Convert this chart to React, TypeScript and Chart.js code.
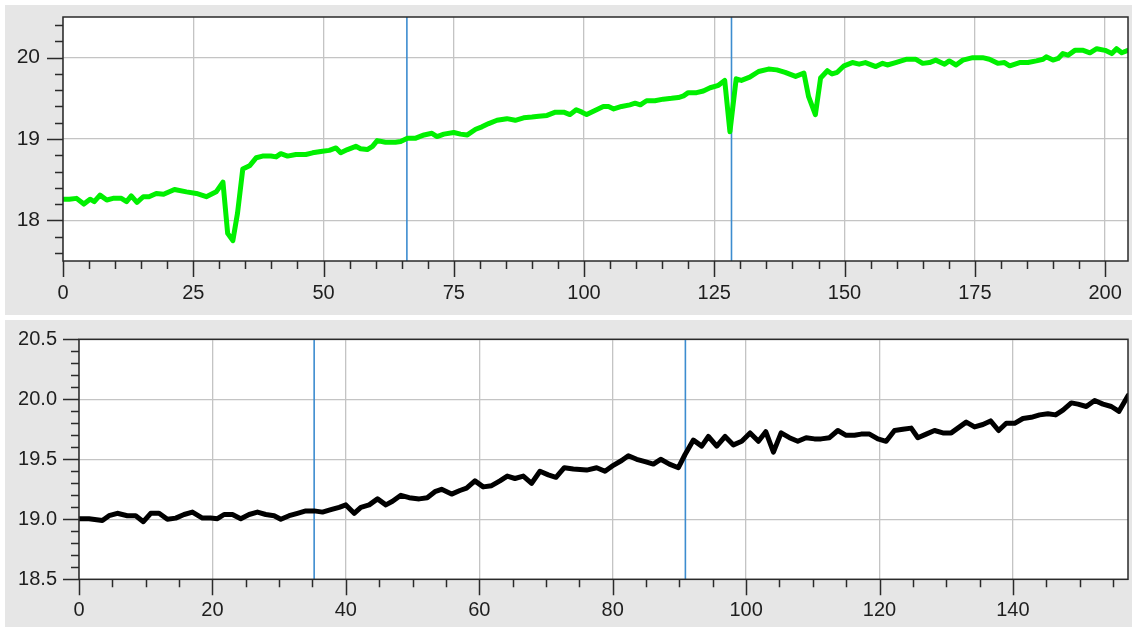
import React, { useEffect, useRef } from "react";
import { Chart, registerables } from "chart.js";

Chart.register(...registerables);

// ---------- Top panel data ----------
const topX = [
  0, 1.2, 2.6, 4, 5.2, 6, 7.1, 8.4, 9.6, 11.2, 12.2, 13.1, 14.2, 15.4, 16.5, 17.9, 19.3, 21.4, 23.7, 25.6,
  27.5, 29.4, 30.7, 31.6, 32.6, 33.5, 34.5, 35.8, 37.1, 38.3, 39.9, 40.9, 41.8, 43.1, 44.7, 46.6, 47.9, 49.8,
  51.1, 52.4, 53.3, 54.6, 56.2, 57.1, 58.4, 59.4, 60.3, 61.9, 63.8, 64.8, 66.1, 67.7, 69.3, 70.8, 71.8, 73.1,
  75, 76.3, 77.6, 79.2, 80.4, 81.7, 83.3, 85.2, 86.8, 88.4, 90.0, 91.3, 92.9, 94.5, 96.1, 97.3, 98.5, 99.6,
  100.5, 102.1, 103.7, 104.7, 105.7, 107.2, 108.8, 109.8, 110.8, 112.0, 113.6, 115.2, 116.8, 118.1, 119.1,
  120.0, 121.6, 122.9, 124.2, 125.8, 127.0, 128.0, 129.2, 130.2, 131.8, 133.5, 135.4, 137.0, 138.6, 140.6,
  142.2, 143.1, 144.4, 145.4, 146.7, 147.6, 148.6, 149.9, 151.5, 152.8, 154.0, 156.0, 157.3, 158.2, 159.8,
  161.8, 163.7, 165.0, 166.3, 167.5, 169.2, 170.1, 171.4, 172.7, 174.6, 176.5, 177.8, 179.4, 180.7, 181.7,
  183.6, 185.2, 186.8, 188.1, 188.7, 190.0, 191.0, 191.9, 192.9, 194.2, 195.8, 197.1, 198.4, 200.0, 201.3,
  202.2, 203.2, 204.4,
];
const topY = [
  18.26, 18.26, 18.27, 18.2, 18.26, 18.23, 18.31, 18.25, 18.27, 18.27, 18.23, 18.3, 18.22, 18.29, 18.29, 18.33,
  18.32, 18.38, 18.35, 18.33, 18.29, 18.35, 18.47, 17.84, 17.75, 18.09, 18.63, 18.67, 18.77, 18.79, 18.79,
  18.78, 18.82, 18.79, 18.81, 18.81, 18.83, 18.85, 18.86, 18.89, 18.83, 18.87, 18.91, 18.88, 18.87, 18.91,
  18.98, 18.96, 18.96, 18.97, 19.01, 19.01, 19.05, 19.07, 19.03, 19.06, 19.08, 19.06, 19.05, 19.12, 19.15,
  19.19, 19.23, 19.25, 19.23, 19.26, 19.27, 19.28, 19.29, 19.33, 19.33, 19.3, 19.36, 19.33, 19.3, 19.35,
  19.4, 19.4, 19.37, 19.4, 19.42, 19.44, 19.42, 19.47, 19.47, 19.49, 19.5, 19.51, 19.53, 19.57, 19.57,
  19.59, 19.63, 19.66, 19.72, 19.09, 19.74, 19.72, 19.76, 19.83, 19.86, 19.85, 19.82, 19.77, 19.81, 19.52,
  19.3, 19.75, 19.84, 19.8, 19.82, 19.9, 19.94, 19.92, 19.94, 19.89, 19.93, 19.91, 19.94, 19.98, 19.98,
  19.93, 19.94, 19.97, 19.92, 19.96, 19.91, 19.97, 20.0, 20.0, 19.98, 19.93, 19.94, 19.9, 19.94, 19.94,
  19.96, 19.98, 20.01, 19.97, 19.99, 20.05, 20.03, 20.09, 20.09, 20.06, 20.11, 20.09, 20.05, 20.11, 20.06,
  20.09,
];
const topMarkers = [66, 128.3];
const topXMajor = [0, 25, 50, 75, 100, 125, 150, 175, 200];
const topXLabels = ["0", "25", "50", "75", "100", "125", "150", "175", "200"];
const topYMajor = [18, 19, 20];
const topYLabels = ["18", "19", "20"];

// ---------- Bottom panel data ----------
const bottomX = [
  0, 1.5, 3.5, 4.5, 5.75, 7.25, 8.5, 9.65, 10.75, 12, 13.25, 14.5, 15.75, 17, 18.5, 19.75, 20.75, 21.75, 23,
  24.25, 25.5, 26.75, 28, 29.25, 30.25, 31.5, 32.75, 34, 35.25, 36.5, 37.75, 39, 40, 41.25, 42.25, 43.5, 44.75,
  46, 47, 48.25, 49.5, 51, 52.2, 53.35, 54.35, 55.85, 57.1, 58.1, 59.35, 60.6, 61.85, 63.1, 64.2, 65.35, 66.6,
  67.85, 69.1, 70.35, 71.5, 72.75, 74.1, 76.1, 77.6, 78.85, 80.1, 81.35, 82.35, 83.6, 84.85, 86.1, 87.2, 88.5,
  89.85, 90.85, 92.1, 93.35, 94.35, 95.6, 96.85, 98.1, 99.35, 100.6, 101.85, 102.95, 104.1, 105.25, 106.5,
  107.75, 109, 110.25, 111.25, 112.5, 113.75, 115, 116.25, 117.25, 118.5, 119.75, 121, 122.25, 123.5, 124.75,
  125.75, 127, 128.25, 129.5, 130.75, 132, 133, 134.25, 135.5, 136.65, 137.85, 139, 140.25, 141.5, 142.75,
  144, 145.25, 146.4, 147.5, 148.75, 149.75, 151, 152.25, 153.5, 154.75, 155.9, 157.25,
];
const bottomY = [
  19.005, 19.005, 18.99, 19.03, 19.05, 19.03, 19.03, 18.98, 19.05, 19.05, 19.0, 19.01, 19.04, 19.06, 19.01,
  19.01, 19.005, 19.04, 19.04, 19.005, 19.04, 19.06, 19.04, 19.03, 19.0, 19.03, 19.05, 19.07, 19.07, 19.06,
  19.08, 19.1, 19.12, 19.05, 19.1, 19.12, 19.17, 19.12, 19.15, 19.2, 19.18, 19.17, 19.18, 19.23, 19.25, 19.21,
  19.24, 19.26, 19.32, 19.27, 19.28, 19.32, 19.36, 19.34, 19.36, 19.3, 19.4, 19.37, 19.35, 19.43, 19.42,
  19.41, 19.43, 19.4, 19.45, 19.49, 19.53, 19.5, 19.48, 19.46, 19.5, 19.46, 19.43, 19.54, 19.66, 19.61,
  19.69, 19.61, 19.69, 19.62, 19.65, 19.72, 19.65, 19.73, 19.56, 19.72, 19.68, 19.65, 19.68, 19.67, 19.67,
  19.68, 19.74, 19.7, 19.7, 19.71, 19.71, 19.67, 19.65, 19.74, 19.75, 19.76, 19.68, 19.71, 19.74, 19.72,
  19.72, 19.77, 19.81, 19.77, 19.79, 19.82, 19.74, 19.8, 19.8, 19.84, 19.85, 19.87, 19.88, 19.87, 19.91,
  19.97, 19.96, 19.94, 19.99, 19.96, 19.94, 19.9, 20.03,
];
const bottomMarkers = [35.25, 90.9];
const bottomXMajor = [0, 20, 40, 60, 80, 100, 120, 140];
const bottomXLabels = ["0", "20", "40", "60", "80", "100", "120", "140"];
const bottomYMajor = [18.5, 19.0, 19.5, 20.0, 20.5];
const bottomYLabels = ["18.5", "19.0", "19.5", "20.0", "20.5"];

const FONT = '"Liberation Sans", Arial, Helvetica, sans-serif';
const GRID = "#c4c4c4";
const FRAME = "#2a2a2a";
const MARKER = "#3d8ccf";
const PANEL_BG = "#e6e6e6";

type PanelCfg = {
  width: number;
  height: number;
  xs: number[];
  ys: number[];
  color: string;
  markers: number[];
  xMin: number;
  xMax: number;
  xStep: number;
  xTickEnd: number;
  xMajor: number[];
  xLabels: string[];
  yMin: number;
  yMax: number;
  yStep: number;
  yTickStart: number;
  yTickEnd: number;
  yMajor: number[];
  yLabels: string[];
  yFont: number;
  padTop: number;
  padRight: number;
  yAxisWidth: number;
  xAxisHeight: number;
  xLabelPad: number;
  yLabelPad: number;
};

function steps(start: number, end: number, step: number): number[] {
  const out: number[] = [];
  const n = Math.round((end - start) / step);
  for (let i = 0; i <= n; i++) out.push(Math.round((start + i * step) * 1e6) / 1e6);
  return out;
}

function majorIndex(list: number[], v: number): number {
  for (let i = 0; i < list.length; i++) if (Math.abs(list[i] - v) < 1e-6) return i;
  return -1;
}

function buildChart(canvas: HTMLCanvasElement, c: PanelCfg): Chart {
  const xTickVals = steps(c.xMin, c.xTickEnd, c.xStep);
  const yTickVals = steps(c.yTickStart, c.yTickEnd, c.yStep);
  const MAJOR_LEN = 16;
  const MINOR_LEN = 8;

  const datasets: any[] = [
    {
      data: c.xs.map((x, i) => ({ x, y: c.ys[i] })),
      borderColor: c.color,
      borderWidth: 5,
      pointRadius: 0,
      tension: 0,
      borderJoinStyle: "round",
      borderCapStyle: "round",
      fill: false,
      order: 0,
    },
    ...c.markers.map((m) => ({
      data: [
        { x: m, y: c.yMin },
        { x: m, y: c.yMax },
      ],
      borderColor: MARKER,
      borderWidth: 1.6,
      pointRadius: 0,
      borderCapStyle: "butt",
      fill: false,
      order: 1,
    })),
  ];

  const framePlugin = {
    id: "frameTicks",
    beforeDraw(chart: any) {
      const { ctx, chartArea: a } = chart;
      ctx.save();
      ctx.fillStyle = "#ffffff";
      ctx.fillRect(a.left, a.top, a.right - a.left, a.bottom - a.top);
      ctx.restore();
    },
    afterDraw(chart: any) {
      const { ctx, chartArea: a, scales } = chart;
      const xs = scales.x;
      const ys = scales.y;
      ctx.save();
      ctx.strokeStyle = FRAME;
      ctx.lineWidth = 1.5;
      ctx.beginPath();
      xTickVals.forEach((v) => {
        const px = Math.round(xs.getPixelForValue(v)) + 0.5;
        const len = majorIndex(c.xMajor, v) >= 0 ? MAJOR_LEN : MINOR_LEN;
        ctx.moveTo(px, a.bottom);
        ctx.lineTo(px, a.bottom + len);
      });
      yTickVals.forEach((v) => {
        const py = Math.round(ys.getPixelForValue(v)) + 0.5;
        const len = majorIndex(c.yMajor, v) >= 0 ? MAJOR_LEN : MINOR_LEN;
        ctx.moveTo(a.left, py);
        ctx.lineTo(a.left - len, py);
      });
      ctx.stroke();
      ctx.strokeRect(a.left, a.top, a.right - a.left, a.bottom - a.top);
      ctx.restore();
    },
  };

  return new Chart(canvas, {
    type: "line",
    data: { datasets },
    plugins: [framePlugin],
    options: {
      responsive: false,
      animation: false,
      events: [],
      layout: { padding: { left: 0, top: c.padTop, right: c.padRight, bottom: 0 } },
      plugins: { legend: { display: false }, tooltip: { enabled: false } },
      scales: {
        x: {
          type: "linear",
          position: "bottom",
          min: c.xMin,
          max: c.xMax,
          bounds: "data",
          afterBuildTicks: (scale: any) => {
            scale.ticks = xTickVals.map((v) => ({ value: v }));
          },
          afterFit: (scale: any) => {
            scale.height = c.xAxisHeight;
            scale.paddingLeft = 0;
            scale.paddingRight = 0;
            scale.paddingTop = 0;
            scale.paddingBottom = 0;
          },
          ticks: {
            autoSkip: false,
            maxRotation: 0,
            minRotation: 0,
            padding: c.xLabelPad,
            color: "#1e1e1e",
            font: { family: FONT, size: 20 },
            callback: (v: any) => {
              const i = majorIndex(c.xMajor, Number(v));
              return i >= 0 ? c.xLabels[i] : "";
            },
          },
          grid: {
            color: (ctx: any) =>
              ctx.tick && majorIndex(c.xMajor, ctx.tick.value) >= 0 ? GRID : "rgba(0,0,0,0)",
            lineWidth: 1.3,
            drawTicks: true,
            tickLength: 16,
            tickColor: "rgba(0,0,0,0)",
          },
          border: { display: false },
        },
        y: {
          type: "linear",
          position: "left",
          min: c.yMin,
          max: c.yMax,
          bounds: "data",
          afterBuildTicks: (scale: any) => {
            scale.ticks = yTickVals.map((v) => ({ value: v }));
          },
          afterFit: (scale: any) => {
            scale.width = c.yAxisWidth;
            scale.paddingLeft = 0;
            scale.paddingRight = 0;
            scale.paddingTop = 0;
            scale.paddingBottom = 0;
          },
          ticks: {
            autoSkip: false,
            padding: c.yLabelPad,
            color: "#1e1e1e",
            font: { family: FONT, size: c.yFont },
            callback: (v: any) => {
              const i = majorIndex(c.yMajor, Number(v));
              return i >= 0 ? c.yLabels[i] : "";
            },
          },
          grid: {
            color: (ctx: any) =>
              ctx.tick && majorIndex(c.yMajor, ctx.tick.value) >= 0 ? GRID : "rgba(0,0,0,0)",
            lineWidth: 1.3,
            drawTicks: true,
            tickLength: 16,
            tickColor: "rgba(0,0,0,0)",
          },
          border: { display: false },
        },
      },
    } as any,
  });
}

const topCfg: PanelCfg = {
  width: 1127,
  height: 310,
  xs: topX,
  ys: topY,
  color: "#00f000",
  markers: topMarkers,
  xMin: 0,
  xMax: 204.4,
  xStep: 5,
  xTickEnd: 200,
  xMajor: topXMajor,
  xLabels: topXLabels,
  yMin: 17.5,
  yMax: 20.5,
  yStep: 0.2,
  yTickStart: 17.6,
  yTickEnd: 20.4,
  yMajor: topYMajor,
  yLabels: topYLabels,
  yFont: 21,
  padTop: 12,
  padRight: 4,
  yAxisWidth: 58,
  xAxisHeight: 54,
  xLabelPad: 4,
  yLabelPad: 7,
};

const bottomCfg: PanelCfg = {
  width: 1127,
  height: 307,
  xs: bottomX,
  ys: bottomY,
  color: "#000000",
  markers: bottomMarkers,
  xMin: 0,
  xMax: 157.25,
  xStep: 5,
  xTickEnd: 155,
  xMajor: bottomXMajor,
  xLabels: bottomXLabels,
  yMin: 18.5,
  yMax: 20.5,
  yStep: 0.1,
  yTickStart: 18.5,
  yTickEnd: 20.5,
  yMajor: bottomYMajor,
  yLabels: bottomYLabels,
  yFont: 20,
  padTop: 19.3,
  padRight: 4,
  yAxisWidth: 74,
  xAxisHeight: 47.7,
  xLabelPad: 3,
  yLabelPad: 6,
};

function Panel({ cfg, left, top }: { cfg: PanelCfg; left: number; top: number }) {
  const ref = useRef<HTMLCanvasElement | null>(null);
  useEffect(() => {
    if (!ref.current) return;
    const chart = buildChart(ref.current, cfg);
    return () => chart.destroy();
  }, [cfg]);
  return (
    <div
      style={{
        position: "absolute",
        left,
        top,
        width: cfg.width,
        height: cfg.height,
        background: PANEL_BG,
      }}
    >
      <canvas
        ref={ref}
        width={cfg.width}
        height={cfg.height}
        style={{ display: "block", width: cfg.width, height: cfg.height }}
      />
    </div>
  );
}

export default function App() {
  return (
    <div
      style={{
        position: "fixed",
        left: 0,
        top: 0,
        width: 1132,
        height: 627,
        background: "#ffffff",
        overflow: "hidden",
      }}
    >
      <Panel cfg={topCfg} left={5} top={5} />
      <Panel cfg={bottomCfg} left={5} top={320} />
    </div>
  );
}
